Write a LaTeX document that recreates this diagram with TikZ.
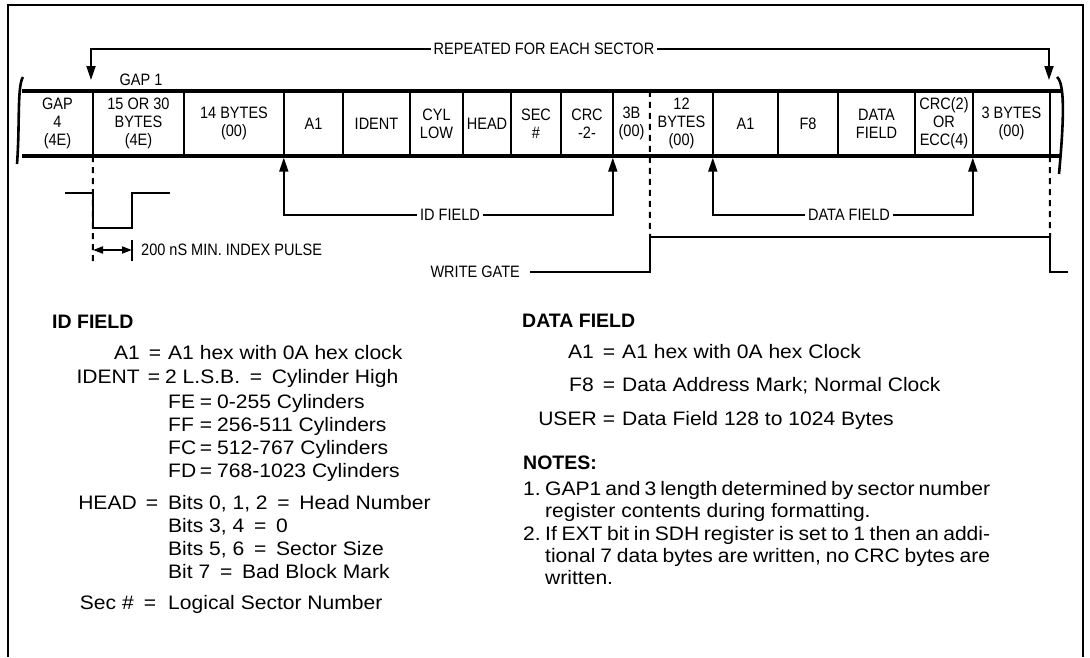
\documentclass[tikz,border=0pt]{standalone}
\usepackage{fontspec}
\setmainfont{Liberation Sans}
\newfontfamily\bodyf{Liberation Sans}[FakeStretch=1.08]
\newfontfamily\lblf{Liberation Sans}[FakeStretch=0.88]
\usetikzlibrary{arrows.meta}
\begin{document}
\begin{tikzpicture}[x=1pt,y=-1pt]
\tikzset{
 lbl/.style={font=\lblf\fontsize{16.5}{17.8}\selectfont, inner sep=1pt},
 cell/.style={lbl, align=center, minimum height=65pt, inner sep=0pt},
 body/.style={font=\bodyf\fontsize{19.5}{23}\selectfont, inner sep=0pt},
 headtxt/.style={font=\bfseries\fontsize{19.5}{23}\selectfont, inner sep=0pt, anchor=base west},
 eql/.style={body, anchor=base east},
 eqs/.style={body, anchor=base},
 eqv/.style={body, anchor=base west},
 tape/.style={line width=3.6pt},
 divline/.style={line width=2.2pt},
 conn/.style={line width=1.8pt},
 arr/.style={conn, -{Triangle[length=14pt,width=9pt]}, shorten >=1.5pt},
 sig/.style={line width=2.3pt},
 dsh/.style={line width=2pt, dash pattern=on 6pt off 5pt},
}
\fill[white] (0,0) rectangle (1090,657);
\useasboundingbox (0,0) rectangle (1090,657);

% frame
\draw[line width=1.8pt] (8,657) -- (8,5) -- (1083,5) -- (1083,657);

% tape cells
\foreach \n/\l/\r/\t in {
 c1/22/93/{GAP\\4\\(4E)},
 c2/93/184/{15 OR 30\\BYTES\\(4E)},
 c3/184/284/{14 BYTES\\(00)},
 c4/284/343/{A1},
 c5/343/410/{IDENT},
 c6/410/463/{CYL\\LOW},
 c7/463/511/{HEAD},
 c8/511/561/{SEC\\\#},
 c9/561/613/{CRC\\-2-},
 c10/613/650/{3B\\(00)},
 c11/650/713/{12\\BYTES\\(00)},
 c12/713/778/{A1},
 c13/778/838/{F8},
 c14/838/915/{DATA\\FIELD},
 c15/915/973/{CRC(2)\\OR\\ECC(4)},
 c16/973/1050/{3 BYTES\\(00)},
 c17/1050/1060/{}}
 \node[cell, minimum width={(\r-\l)*1pt}] (\n) at ({(\l+\r)/2},123.5) {\t};

\draw[tape] (c1.north west) -- ([xshift=2pt]c17.north east);
\draw[tape] (c1.south west) -- (c17.south east);
\foreach \n in {c1,c2,c3,c4,c5,c6,c7,c8,c9,c11,c12,c13,c14,c15,c16}
 \draw[divline] (\n.north east) -- (\n.south east);
% wavy tape ends
\draw[line width=2.6pt] (23,77) .. controls (17,86) and (20,125) .. (17,164);
\draw[line width=2.6pt] (1057,77) .. controls (1066,84) and (1063,130) .. (1059,174);

% repeated for each sector
\node[lbl, fill=white, inner sep=3pt] (rep) at (544,49) {REPEATED FOR EACH SECTOR};
\coordinate (repL) at (91,80);
\coordinate (repR) at (1049,80);
\draw[arr, shorten >=0pt] (rep.west) -| (repL);
\draw[arr, shorten >=0pt] (rep.east) -| (repR);
\node[lbl] (gap1) at (141,80) {GAP 1};

% field brackets
\node[lbl, fill=white, inner sep=3pt] (idf) at (450,215) {ID FIELD};
\draw[arr] (idf.west) -| (c4.south west);
\draw[arr] (idf.east) -| (c10.south west);
\node[lbl, fill=white, inner sep=3pt] (dfl) at (849,215) {DATA FIELD};
\draw[arr] (dfl.west) -| (c12.south west);
\draw[arr] (dfl.east) -| (c16.south west);

% index pulse
\coordinate (ixend) at (93,262);
\draw[dsh] (c2.south west) -- (ixend);
\draw[sig] (65,193) -| (93,228) -| (132,193) -- (170,193);
\coordinate (dimA) at (93,250);
\coordinate (dimB) at (132,250);
\draw[conn, {Triangle[length=10pt,width=7pt]}-{Triangle[length=10pt,width=7pt]}] (dimA) -- (dimB);
\draw[conn] (132,240) -- (132,261);
\node[lbl, anchor=west] (ip) at (140,250) {200 nS MIN. INDEX PULSE};

% write gate
\node[lbl, anchor=east] (wg) at (521,272) {WRITE GATE};
\coordinate (wgup) at (650,237);
\coordinate (wgdn) at (1050,237);
\draw[dsh] (c11.north west) -- (wgup);
\draw[dsh] (c17.south west) -- (wgdn);
\draw[sig] ([xshift=9pt]wg.east) -| (wgup) -- (wgdn) |- (1068,272);

% ID FIELD description
\node[headtxt] (idh) at (52,328) {ID FIELD};
\node[eql] at (140,359) {A1};
\node[eqs] at (155,359) {=};
\node[eqv] at (168,359) {A1 hex with 0A hex clock};
\node[eql] at (140,383) {IDENT};
\node[eqs] at (154,383) {=};
\node[eqv] at (165,383) {2 L.S.B.\enspace=\enspace Cylinder High};
\foreach \a/\v/\y in {FE/0-255 Cylinders/408, FF/256-511 Cylinders/431, FC/512-767 Cylinders/454, FD/768-1023 Cylinders/477}{
 \node[eqv] at (168,\y) {\a};
 \node[eqs] at (206,\y) {=};
 \node[eqv] at (217,\y) {\v};
}
\node[eql] at (137,509) {HEAD};
\node[eqs] at (152,509) {=};
\node[eqv] at (168,509) {Bits 0, 1, 2\enspace=\enspace Head Number};
\node[eqv] at (168,532) {Bits 3, 4\enspace=\enspace 0};
\node[eqv] at (168,555) {Bits 5, 6\enspace=\enspace Sector Size};
\node[eqv] at (168,578) {Bit 7\enspace=\enspace Bad Block Mark};
\node[eql] at (134,609) {Sec \#};
\node[eqs] at (150,609) {=};
\node[eqv] at (168,609) {Logical Sector Number};

% DATA FIELD description
\node[headtxt] (dfh) at (522,327) {DATA FIELD};
\node[eql] at (594,358) {A1};
\node[eqs] at (609,358) {=};
\node[eqv] at (622,358) {A1 hex with 0A hex Clock};
\node[eql] at (594,391) {F8};
\node[eqs] at (609,391) {=};
\node[eqv] at (622,391) {Data Address Mark; Normal Clock};
\node[eql] at (597,425) {USER};
\node[eqs] at (609,425) {=};
\node[eqv] at (622,425) {Data Field 128 to 1024 Bytes};

% notes
\node[headtxt] (nh) at (523,469) {NOTES:};
\node[eqv] at (523,495) {1.};
\node[eqv] at (545,495) {\makebox[445pt][s]{GAP1 and 3 length determined by sector number}};
\node[eqv] at (545,517) {register contents during formatting.};
\node[eqv] at (523,540) {2.};
\node[eqv] at (545,540) {\makebox[445pt][s]{If EXT bit in SDH register is set to 1 then an addi-}};
\node[eqv] at (545,562) {\makebox[445pt][s]{tional 7 data bytes are written, no CRC bytes are}};
\node[eqv] at (545,584) {written.};
\end{tikzpicture}
\end{document}
